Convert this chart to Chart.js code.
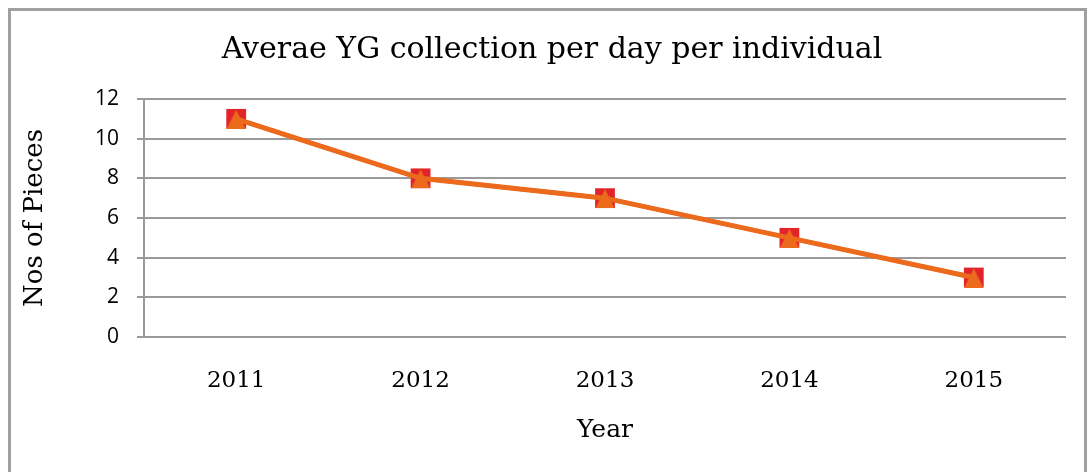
<!DOCTYPE html>
<html>
<head>
<meta charset="utf-8">
<script src="https://cdn.jsdelivr.net/npm/chart.js@4"></script>
<style>
    html, body { margin: 0; padding: 0; background: #fff; }
    .frame { position: absolute; left: 8px; top: 8px; width: 1079px; height: 480px; border: 3px solid #a0a0a0; box-sizing: border-box; }
    .chartBox { position: absolute; left: 0; top: 0; width: 1091px; height: 472px; }
</style>
</head>
<body>
<div class="frame"></div>
<div class="chartBox"><canvas id="ygChart" width="1091" height="472"></canvas></div>
<script>
const years = ['2011', '2012', '2013', '2014', '2015'];
const squareSeries = [11, 8, 7, 5, 3];
const triangleSeries = [11, 8, 7, 5, 3];
const yTicks = [0, 2, 4, 6, 8, 10, 12];
const chartTitle = 'Averae YG collection per day per individual';

const serif = "'DejaVu Serif', serif";

// triangle marker centred on its box (like Excel), not on its centroid
function makeTriangle(color) {
    const c = document.createElement('canvas');
    c.width = 20;
    c.height = 20;
    const g = c.getContext('2d');
    g.fillStyle = color;
    g.beginPath();
    g.moveTo(10, 1);
    g.lineTo(19.5, 20);
    g.lineTo(0.5, 20);
    g.closePath();
    g.fill();
    return c;
}

// title drawn over the whole frame centre
const centeredTitle = {
    id: 'centeredTitle',
    afterDraw(chart) {
        const c = chart.ctx;
        c.save();
        c.font = `30px ${serif}`;
        c.fillStyle = '#000';
        c.textAlign = 'center';
        c.textBaseline = 'middle';
        c.fillText(chartTitle, 552, 50);
        c.restore();
    }
};

const ctx = document.getElementById('ygChart').getContext('2d');

window.chartInstance = new Chart(ctx, {
    type: 'line',
    data: {
        labels: years,
        datasets: [{
            label: 'Series 1',
            data: squareSeries,
            order: 1,
            borderColor: '#e2242a',
            backgroundColor: '#e2242a',
            borderWidth: 4,
            pointStyle: 'rect',
            pointRadius: 14,
            pointBorderWidth: 0,
            tension: 0
        }, {
            label: 'Series 2',
            data: triangleSeries,
            order: 0,
            borderColor: '#eb6a1c',
            backgroundColor: '#eb6a1c',
            borderWidth: 5,
            pointStyle: makeTriangle('#eb6a1c'),
            pointRadius: 10,
            pointBorderWidth: 0,
            tension: 0
        }]
    },
    options: {
        responsive: false,
        animation: false,
        layout: { padding: { left: 0, right: 25, top: 99, bottom: 0 } },
        plugins: {
            legend: { display: false },
            tooltip: { enabled: false },
            title: { display: false }
        },
        scales: {
            x: {
                offset: true,
                grid: { display: false },
                border: { display: false },
                ticks: { color: '#000', font: { family: serif, size: 23 }, padding: 22 },
                title: {
                    display: true,
                    text: 'Year',
                    color: '#000',
                    font: { family: serif, size: 25 },
                    padding: { top: 0, bottom: 27 }
                },
                afterFit: scale => { scale.height = 135; }
            },
            y: {
                min: 0,
                max: 12,
                afterBuildTicks: scale => { scale.ticks = yTicks.map(v => ({ value: v })); },
                grid: { color: '#9a9a9a', lineWidth: 2, tickLength: 7, drawTicks: true },
                border: { display: true, color: '#9a9a9a', width: 2 },
                ticks: { color: '#000', font: { family: "'Open Sans', sans-serif", size: 21 }, padding: 18 },
                title: {
                    display: true,
                    text: 'Nos of Pieces',
                    color: '#000',
                    font: { family: serif, size: 26 },
                    padding: { top: 20, bottom: 0 }
                },
                afterFit: scale => { scale.width = 144; }
            }
        }
    },
    plugins: [centeredTitle]
});
</script>
</body>
</html>
